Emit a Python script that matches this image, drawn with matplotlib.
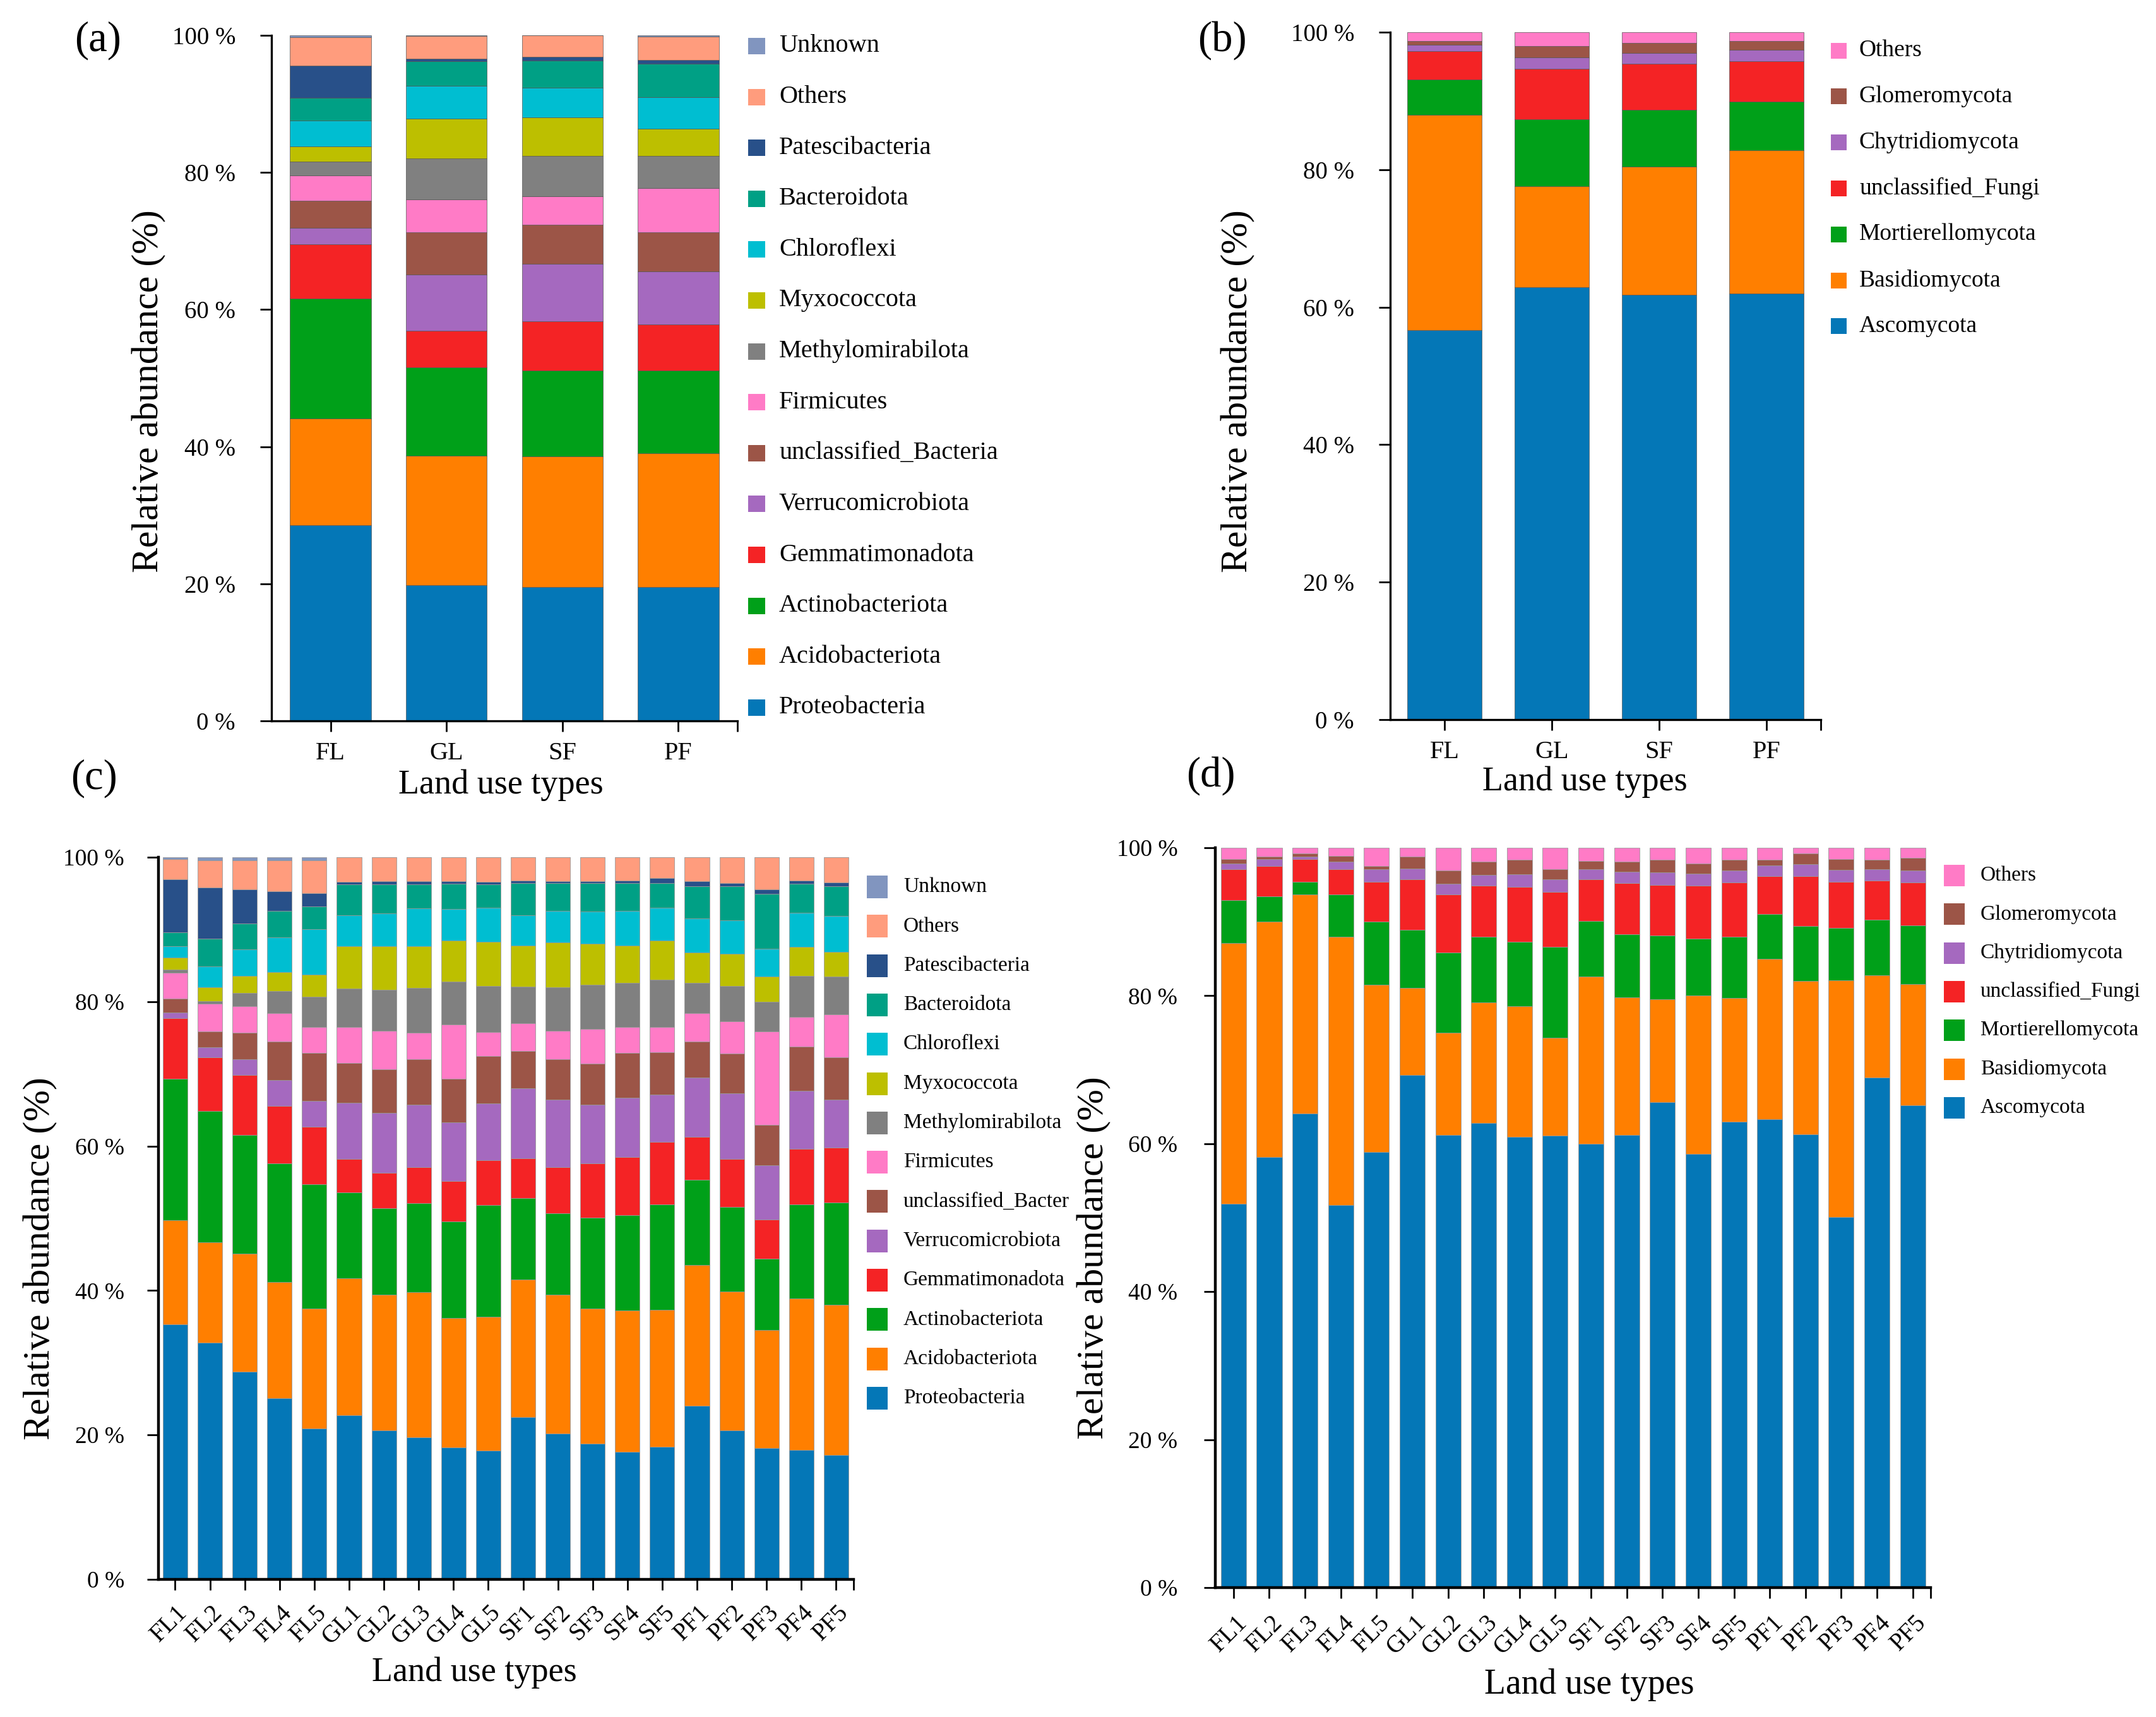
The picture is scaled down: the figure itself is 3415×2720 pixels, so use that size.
import numpy as np
import matplotlib
matplotlib.use('Agg')
import matplotlib.pyplot as plt
from matplotlib.patches import Rectangle
from matplotlib.transforms import ScaledTranslation

# ---- data -------------------------------------------------------------
group_labels = ['FL', 'GL', 'SF', 'PF']
sample_labels = ['FL1', 'FL2', 'FL3', 'FL4', 'FL5', 'GL1', 'GL2', 'GL3', 'GL4', 'GL5',
                 'SF1', 'SF2', 'SF3', 'SF4', 'SF5', 'PF1', 'PF2', 'PF3', 'PF4', 'PF5']
y_tick_values = [0, 20, 40, 60, 80, 100]
y_tick_text = ['0 %', '20 %', '40 %', '60 %', '80 %', '100 %']

# stacking order, bottom -> top
bac_phyla = ['Proteobacteria', 'Acidobacteriota', 'Actinobacteriota', 'Gemmatimonadota',
             'Verrucomicrobiota', 'unclassified_Bacteria', 'Firmicutes', 'Methylomirabilota',
             'Myxococcota', 'Chloroflexi', 'Bacteroidota', 'Patescibacteria', 'Others', 'Unknown']
bac_colors = ['#0477b7', '#ff7f00', '#00a019', '#f42325', '#a569bf', '#9c5547', '#ff7bc6',
              '#808080', '#bdbf00', '#00bed1', '#00a085', '#285089', '#ff9c7d', '#8195bf']
fun_phyla = ['Ascomycota', 'Basidiomycota', 'Mortierellomycota', 'unclassified_Fungi',
             'Chytridiomycota', 'Glomeromycota', 'Others']
fun_colors = ['#0477b7', '#ff7f00', '#00a019', '#f42325', '#a569bf', '#9c5547', '#ff7bc6']

# (a) bacteria, mean per land use type (%), columns follow bac_phyla
bac_group_pct = [
    [28.5, 15.6, 17.5, 7.9, 2.4, 4.0, 3.7, 2.0, 2.2, 3.8, 3.3, 4.7, 4.1, 0.3],
    [19.8, 18.9, 12.9, 5.3, 8.2, 6.2, 4.8, 5.9, 5.8, 4.8, 3.6, 0.4, 3.3, 0.1],
    [19.5, 19.1, 12.5, 7.2, 8.4, 5.7, 4.1, 5.9, 5.6, 4.4, 3.9, 0.6, 3.1, 0.0],
    [19.5, 19.5, 12.1, 6.7, 7.8, 5.7, 6.4, 4.7, 4.0, 4.6, 4.9, 0.5, 3.4, 0.2],
]
# (b) fungi, mean per land use type (%), columns follow fun_phyla
fun_group_pct = [
    [56.7, 31.3, 5.1, 4.1, 1.0, 0.5, 1.3],
    [62.9, 14.7, 9.7, 7.4, 1.6, 1.7, 2.0],
    [61.8, 18.6, 8.3, 6.7, 1.6, 1.4, 1.6],
    [62.0, 20.8, 7.1, 5.9, 1.6, 1.3, 1.3],
]
# (c) bacteria per sample (%)
bac_sample_pct = [
    [35.3, 14.4, 19.6, 8.4, 0.8, 1.9, 3.6, 0.4, 1.7, 1.6, 1.9, 7.3, 2.8, 0.3],
    [32.8, 13.9, 18.2, 7.4, 1.4, 2.2, 3.8, 0.4, 1.9, 2.9, 3.8, 7.1, 3.8, 0.4],
    [28.8, 16.3, 16.4, 8.3, 2.2, 3.7, 3.7, 1.8, 2.4, 3.6, 3.6, 4.7, 4.1, 0.4],
    [25.1, 16.1, 16.4, 8.0, 3.5, 5.4, 3.9, 3.1, 2.6, 4.8, 3.7, 2.7, 4.3, 0.4],
    [20.9, 16.6, 17.2, 8.0, 3.6, 6.6, 3.6, 4.2, 3.0, 6.3, 3.2, 1.8, 4.6, 0.4],
    [22.7, 19.0, 11.9, 4.6, 7.8, 5.5, 5.0, 5.3, 5.9, 4.3, 4.2, 0.4, 3.4, 0.0],
    [20.6, 18.8, 12.0, 4.9, 8.3, 6.0, 5.4, 5.6, 6.1, 4.5, 4.0, 0.5, 3.3, 0.0],
    [19.7, 20.1, 12.3, 5.0, 8.6, 6.3, 3.7, 6.2, 5.8, 5.2, 3.3, 0.5, 3.3, 0.0],
    [18.3, 17.9, 13.4, 5.6, 8.1, 6.0, 7.5, 6.0, 5.7, 4.3, 3.5, 0.4, 3.3, 0.0],
    [17.8, 18.6, 15.4, 6.2, 7.9, 6.6, 3.3, 6.4, 6.1, 4.7, 3.2, 0.4, 3.4, 0.0],
    [22.5, 19.0, 11.3, 5.5, 9.7, 5.2, 3.8, 5.1, 5.7, 4.2, 4.4, 0.4, 3.2, 0.0],
    [20.2, 19.2, 11.3, 6.4, 9.3, 5.6, 4.0, 6.0, 6.2, 4.4, 3.8, 0.3, 3.3, 0.0],
    [18.8, 18.7, 12.6, 7.5, 8.1, 5.7, 4.8, 6.1, 5.7, 4.5, 3.9, 0.3, 3.3, 0.0],
    [17.7, 19.5, 13.2, 8.1, 8.2, 6.2, 3.6, 6.1, 5.2, 4.8, 3.8, 0.4, 3.2, 0.0],
    [18.4, 18.9, 14.6, 8.7, 6.5, 5.9, 3.5, 6.5, 5.5, 4.5, 3.4, 0.7, 2.9, 0.0],
    [24.0, 19.5, 11.8, 6.0, 8.2, 5.0, 3.9, 4.2, 4.2, 4.7, 4.5, 0.7, 3.3, 0.0],
    [20.6, 19.3, 11.7, 6.6, 9.1, 5.5, 4.5, 4.9, 4.4, 4.7, 4.7, 0.4, 3.6, 0.0],
    [18.2, 16.3, 9.9, 5.4, 7.5, 5.6, 13.0, 4.1, 3.5, 3.8, 7.6, 0.6, 4.5, 0.0],
    [17.9, 21.0, 13.0, 7.7, 8.1, 6.1, 4.1, 5.7, 4.0, 4.7, 4.0, 0.5, 3.2, 0.0],
    [17.2, 20.8, 14.2, 7.6, 6.6, 5.9, 5.9, 5.3, 3.4, 5.0, 4.1, 0.5, 3.5, 0.0],
]
# (d) fungi per sample (%)
fun_sample_pct = [
    [51.9, 35.2, 5.8, 4.2, 0.8, 0.6, 1.5],
    [58.2, 31.8, 3.4, 4.1, 1.0, 0.3, 1.2],
    [64.1, 29.6, 1.7, 3.1, 0.3, 0.4, 0.8],
    [51.7, 36.3, 5.7, 3.4, 1.0, 0.8, 1.1],
    [58.9, 22.6, 8.5, 5.4, 1.7, 0.4, 2.5],
    [69.3, 11.8, 7.8, 6.8, 1.5, 1.6, 1.2],
    [61.2, 13.8, 10.8, 7.9, 1.4, 1.8, 3.1],
    [62.8, 16.3, 8.9, 6.9, 1.4, 1.8, 1.9],
    [60.9, 17.7, 8.7, 7.4, 1.7, 2.0, 1.6],
    [61.1, 13.2, 12.3, 7.4, 1.7, 1.4, 2.9],
    [60.0, 22.6, 7.5, 5.6, 1.4, 1.1, 1.8],
    [61.2, 18.6, 8.5, 6.9, 1.6, 1.3, 1.9],
    [65.6, 13.9, 8.6, 6.9, 1.7, 1.7, 1.6],
    [58.6, 21.4, 7.7, 7.2, 1.6, 1.4, 2.1],
    [63.0, 16.7, 8.3, 7.3, 1.6, 1.5, 1.6],
    [63.3, 21.7, 6.0, 5.2, 1.4, 0.8, 1.6],
    [61.3, 20.7, 7.4, 6.8, 1.6, 1.4, 0.8],
    [50.1, 32.0, 7.1, 6.2, 1.6, 1.5, 1.5],
    [68.9, 13.9, 7.5, 5.3, 1.5, 1.3, 1.6],
    [65.2, 16.4, 7.9, 5.8, 1.6, 1.7, 1.4],
]
# panel (c) legend label is cut off in the original figure
bac_legend_c = bac_phyla[:5] + ['unclassified_Bacter'] + bac_phyla[6:]

# ---- figure -----------------------------------------------------------
W, H, DPI = 3415, 2720, 100
SERIF = 'Liberation Serif'
plt.rcParams['font.family'] = SERIF
fig = plt.figure(figsize=(W / DPI, H / DPI), dpi=DPI)


def px_axes(l, t, r, b):
    return fig.add_axes([l / W, 1 - b / H, (r - l) / W, (b - t) / H])


def ftext(x, y, s, **kw):
    fig.text(x / W, 1 - y / H, s, ha=kw.pop('ha', 'center'), va=kw.pop('va', 'center'), **kw)


def draw_stack(ax, pct, colors, width, edge, elw):
    pct = np.asarray(pct)
    x = np.arange(pct.shape[0])
    bottom = np.zeros(pct.shape[0])
    for j in range(pct.shape[1]):
        ax.bar(x, pct[:, j], width, bottom=bottom, color=colors[j],
               edgecolor=edge, linewidth=elw)
        bottom += pct[:, j]
    return x


def style_axes(ax, x, xlim, labels, tsize, ysize, ypad, spine_w, rotate=False, xpad=10, dx=0):
    ax.set_xlim(*xlim)
    ax.set_ylim(0, 100)
    for s in ['top', 'right']:
        ax.spines[s].set_visible(False)
    for s in ['left', 'bottom']:
        ax.spines[s].set_linewidth(spine_w)
    ax.set_yticks(y_tick_values)
    ax.set_yticklabels(y_tick_text, fontsize=ysize)
    ax.set_xticks(x)
    ax.set_xticks([xlim[1]], minor=True)
    ax.tick_params(axis='y', length=13, width=2, pad=ypad)
    ax.tick_params(axis='x', which='both', length=12, width=2, pad=xpad)
    if rotate:
        ax.set_xticklabels(labels, fontsize=tsize, rotation=45, ha='right',
                           va='center', rotation_mode='anchor')
        for lbl in ax.get_xticklabels():
            lbl.set_transform(lbl.get_transform() + ScaledTranslation(dx / DPI, 0, fig.dpi_scale_trans))
    else:
        ax.set_xticklabels(labels, fontsize=tsize)


def draw_legend(names, colors, xp, y0, dy, pw, ph, xt, size):
    for i, (name, col) in enumerate(zip(names[::-1], colors[::-1])):
        y = y0 + i * dy
        fig.patches.append(Rectangle((xp / W, 1 - (y + ph / 2) / H), pw / W, ph / H,
                                     transform=fig.transFigure, facecolor=col,
                                     edgecolor='none'))
        ftext(xt, y, name, ha='left', fontsize=size)


# (a)
ax_a = px_axes(430, 56, 1168, 1142)
xa = draw_stack(ax_a, bac_group_pct, bac_colors, 0.70, '#555555', 0.5)
style_axes(ax_a, xa, (-0.51, 3.51), group_labels, 29, 28, 28, 2.4, xpad=12)
draw_legend(bac_phyla, bac_colors, 1185, 73, 80.6, 27, 26, 1234, 29)
ftext(236, 620, 'Relative abundance (%)', rotation=90, fontsize=43)
ftext(793, 1244, 'Land use types', fontsize=39)
ftext(155, 64, '(a)', fontsize=48)

# (b)
ax_b = px_axes(2202, 51, 2884, 1140)
xb = draw_stack(ax_b, fun_group_pct, fun_colors, 0.694, '#555555', 0.5)
style_axes(ax_b, xb, (-0.506, 3.506), group_labels, 29, 28, 28, 2.4, xpad=12)
draw_legend(fun_phyla, fun_colors, 2900, 80, 72.8, 25, 25, 2945, 27)
ftext(1961, 620, 'Relative abundance (%)', rotation=90, fontsize=43)
ftext(2510, 1239, 'Land use types', fontsize=39)
ftext(1936, 64, '(b)', fontsize=48)

# (c)
ax_c = px_axes(251, 1358, 1352, 2502)
xc = draw_stack(ax_c, bac_sample_pct, bac_colors, 0.71, '#9a9a9a', 0.6)
style_axes(ax_c, xc, (-0.48, 19.5), sample_labels, 28, 27, 26, 3.2, rotate=True, xpad=22, dx=14)
draw_legend(bac_legend_c, bac_colors, 1373, 1405, 62.3, 33, 36, 1431, 24)
ftext(64, 1994, 'Relative abundance (%)', rotation=90, fontsize=43)
ftext(751, 2650, 'Land use types', fontsize=39)
ftext(149, 1233, '(c)', fontsize=48)

# (d)
ax_d = px_axes(1925, 1343, 3058, 2515)
xd = draw_stack(ax_d, fun_sample_pct, fun_colors, 0.707, '#9a9a9a', 0.6)
style_axes(ax_d, xd, (-0.51, 19.5), sample_labels, 28, 27, 30, 3.2, rotate=True, xpad=24, dx=16)
draw_legend(fun_phyla, fun_colors, 3079, 1387, 61.3, 33, 34, 3137, 24)
ftext(1733, 1993, 'Relative abundance (%)', rotation=90, fontsize=43)
ftext(2517, 2669, 'Land use types', fontsize=40)
ftext(1918, 1229, '(d)', fontsize=48)

fig.savefig('out.png', dpi=DPI)
